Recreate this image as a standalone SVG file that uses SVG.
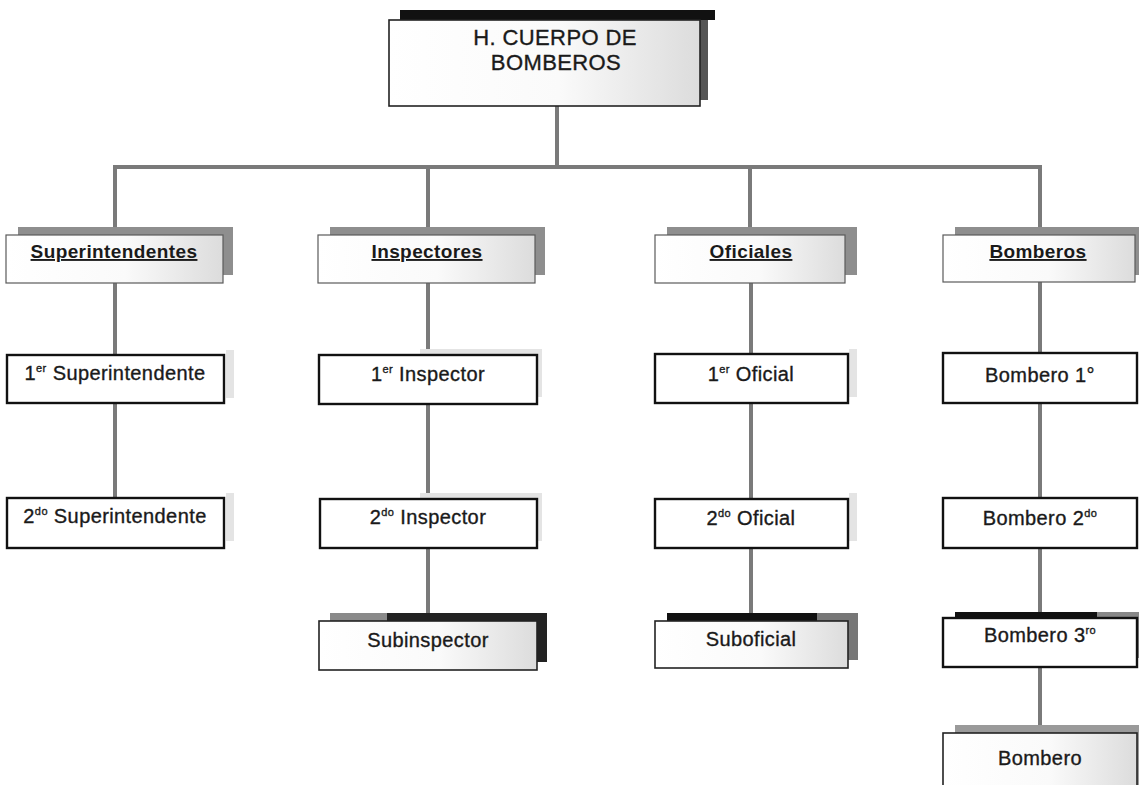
<svg xmlns="http://www.w3.org/2000/svg" width="1139" height="785" viewBox="0 0 1139 785">
<defs>
<linearGradient id="g" x1="0" y1="0" x2="1" y2="0">
<stop offset="0" stop-color="#ffffff"/>
<stop offset="0.55" stop-color="#fafafa"/>
<stop offset="1" stop-color="#dcdcdc"/>
</linearGradient>
</defs>
<style>
.bg{fill:#ffffff}
.conn{stroke:#7a7a7a;stroke-width:4;fill:none}
.sh2{fill:#8e8e8e}
.b2{fill:url(#g);stroke:#5a5a5a;stroke-width:1.2}
.b3{fill:#ffffff;stroke:#111;stroke-width:2.4}
.b3g{fill:url(#g);stroke:#222;stroke-width:1.6}
.fs{fill:#e4e4e4}
.t{font-family:"Liberation Sans",Arial,sans-serif;fill:#1a1a1a;text-anchor:middle;stroke:#1a1a1a;stroke-width:0.35}
.t1{font-size:22px;letter-spacing:0.4px}
.t2{font-size:19px;text-decoration:underline;letter-spacing:0.4px;font-weight:bold;stroke-width:0}
.t3{font-size:20px;letter-spacing:0.4px}
.sup{font-size:11px}
</style>
<rect class="bg" x="0" y="0" width="1139" height="785"/>

<g id="connectors">
<line class="conn" x1="557" y1="105" x2="557" y2="167"/>
<line class="conn" x1="113" y1="167" x2="1042" y2="167"/>
<line class="conn" x1="115" y1="167" x2="115" y2="235"/>
<line class="conn" x1="428" y1="167" x2="428" y2="235"/>
<line class="conn" x1="750" y1="167" x2="750" y2="235"/>
<line class="conn" x1="1040" y1="167" x2="1040" y2="235"/>
<line class="conn" x1="115" y1="283" x2="115" y2="355"/>
<line class="conn" x1="115" y1="403" x2="115" y2="498"/>
<line class="conn" x1="428" y1="283" x2="428" y2="355"/>
<line class="conn" x1="428" y1="405" x2="428" y2="499"/>
<line class="conn" x1="428" y1="548" x2="428" y2="613"/>
<line class="conn" x1="751" y1="283" x2="751" y2="354"/>
<line class="conn" x1="751" y1="403" x2="751" y2="499"/>
<line class="conn" x1="751" y1="548" x2="751" y2="613"/>
<line class="conn" x1="1040" y1="282" x2="1040" y2="353"/>
<line class="conn" x1="1040" y1="403" x2="1040" y2="498"/>
<line class="conn" x1="1040" y1="548" x2="1040" y2="612"/>
<line class="conn" x1="1040" y1="667" x2="1040" y2="725"/>
</g>

<g id="n-cuerpo">
<rect x="400" y="10" width="308" height="90" fill="#555"/>
<rect x="400" y="10" width="315" height="10" fill="#111"/>
<rect x="389" y="20" width="311" height="86" fill="url(#g)" stroke="#222" stroke-width="1.6"/>
<text class="t t1" x="555" y="45">H. CUERPO DE</text>
<text class="t t1" x="556" y="70">BOMBEROS</text>
</g>

<g id="n-superintendentes">
<rect class="sh2" x="18" y="227" width="215" height="48"/>
<rect class="b2" x="6" y="235" width="217" height="48"/>
<text class="t t2" x="114" y="258">Superintendentes</text>
</g>
<g id="n-inspectores">
<rect class="sh2" x="330" y="227" width="215" height="48"/>
<rect class="b2" x="318" y="235" width="217" height="48"/>
<text class="t t2" x="427" y="258">Inspectores</text>
</g>
<g id="n-oficiales">
<rect class="sh2" x="667" y="227" width="190" height="48"/>
<rect class="b2" x="655" y="235" width="190" height="48"/>
<text class="t t2" x="751" y="258">Oficiales</text>
</g>
<g id="n-bomberos">
<rect class="sh2" x="955" y="227" width="184" height="48"/>
<rect class="b2" x="943" y="235" width="192" height="47"/>
<text class="t t2" x="1038" y="258">Bomberos</text>
</g>

<g id="n-1-superintendente">
<rect class="fs" x="226" y="350" width="8" height="48"/>
<rect class="b3" x="7" y="355" width="217" height="48"/>
<text class="t t3" x="115" y="380">1<tspan class="sup" dy="-8">er</tspan><tspan dy="8"> Superintendente</tspan></text>
</g>
<g id="n-2-superintendente">
<rect class="fs" x="226" y="493" width="8" height="48"/>
<rect class="b3" x="7" y="498" width="217" height="50"/>
<text class="t t3" x="115" y="523">2<tspan class="sup" dy="-8">do</tspan><tspan dy="8"> Superintendente</tspan></text>
</g>

<g id="n-1-inspector">
<rect class="fs" x="420" y="349" width="122" height="48"/>
<rect class="b3" x="319" y="355" width="218" height="49"/>
<text class="t t3" x="428" y="381">1<tspan class="sup" dy="-8">er</tspan><tspan dy="8"> Inspector</tspan></text>
</g>
<g id="n-2-inspector">
<rect class="fs" x="420" y="493" width="122" height="48"/>
<rect class="b3" x="320" y="499" width="217" height="49"/>
<text class="t t3" x="428" y="524">2<tspan class="sup" dy="-8">do</tspan><tspan dy="8"> Inspector</tspan></text>
</g>
<g id="n-subinspector">
<rect x="330" y="613" width="217" height="49" fill="#222"/>
<rect x="330" y="613" width="57" height="8" fill="#8a8a8a"/>
<rect class="b3g" x="319" y="621" width="218" height="49"/>
<text class="t t3" x="428" y="647">Subinspector</text>
</g>

<g id="n-1-oficial">
<rect class="fs" x="849" y="349" width="8" height="48"/>
<rect class="b3" x="655" y="354" width="193" height="49"/>
<text class="t t3" x="751" y="381">1<tspan class="sup" dy="-8">er</tspan><tspan dy="8"> Oficial</tspan></text>
</g>
<g id="n-2-oficial">
<rect class="fs" x="849" y="493" width="8" height="48"/>
<rect class="b3" x="655" y="499" width="193" height="49"/>
<text class="t t3" x="751" y="525">2<tspan class="sup" dy="-8">do</tspan><tspan dy="8"> Oficial</tspan></text>
</g>
<g id="n-suboficial">
<rect x="667" y="613" width="191" height="47" fill="#777"/>
<rect x="667" y="613" width="150" height="8" fill="#111"/>
<rect class="b3g" x="655" y="621" width="193" height="47"/>
<text class="t t3" x="751" y="646">Suboficial</text>
</g>

<g id="n-bombero-1">
<rect class="b3" x="943" y="353" width="194" height="50"/>
<text class="t t3" x="1040" y="382">Bombero 1°</text>
</g>
<g id="n-bombero-2">
<rect class="b3" x="943" y="498" width="194" height="50"/>
<text class="t t3" x="1040" y="525">Bombero 2<tspan class="sup" dy="-8">do</tspan></text>
</g>
<g id="n-bombero-3">
<rect x="955" y="612" width="184" height="46" fill="#888"/>
<rect x="955" y="612" width="142" height="7" fill="#111"/>
<rect class="b3" x="943" y="618" width="194" height="49"/>
<text class="t t3" x="1040" y="642">Bombero 3<tspan class="sup" dy="-8">ro</tspan></text>
</g>
<g id="n-bombero">
<rect x="955" y="725" width="184" height="60" fill="#9a9a9a"/>
<rect class="b3g" x="943" y="733" width="194" height="60"/>
<text class="t t3" x="1040" y="765">Bombero</text>
</g>
</svg>
